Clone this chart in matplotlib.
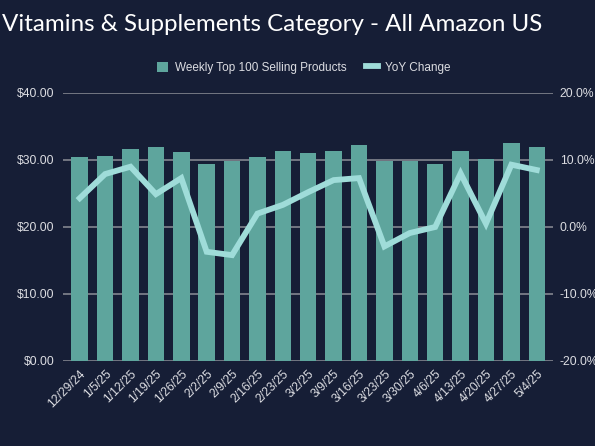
import matplotlib
matplotlib.use("Agg")
import matplotlib.pyplot as plt
from matplotlib.ticker import FuncFormatter

# data
weeks = ['12/29/24', '1/5/25', '1/12/25', '1/19/25', '1/26/25', '2/2/25', '2/9/25',
         '2/16/25', '2/23/25', '3/2/25', '3/9/25', '3/16/25', '3/23/25', '3/30/25',
         '4/6/25', '4/13/25', '4/20/25', '4/27/25', '5/4/25']
avg_price = [30.4, 30.6, 31.7, 32.0, 31.2, 29.4, 29.9, 30.4, 31.3, 31.1,
             31.3, 32.3, 29.9, 29.9, 29.4, 31.3, 30.1, 32.5, 32.0]
yoy_change = [4.3, 7.9, 9.0, 4.9, 7.3, -3.7, -4.2, 2.0, 3.3, 5.2,
              7.0, 7.3, -2.9, -0.9, 0.0, 8.0, 0.5, 9.3, 8.5]

bg = "#161e36"
bar_col = "#5ea59d"
line_col = "#9fdcd9"
grid_col = "#7a7e88"
txt_col = "#dcdde2"

plt.rcParams['font.family'] = ['Liberation Sans', 'DejaVu Sans']

fig = plt.figure(figsize=(5.95, 4.46), dpi=100, facecolor=bg)
ax = fig.add_axes([0.1054, 0.1906, 0.8236, 0.6009])
ax.set_facecolor(bg)

x = list(range(len(weeks)))
bars = ax.bar(x, avg_price, width=0.65, color=bar_col, zorder=2,
              label="Weekly Top 100 Selling Products")
ax.set_ylim(0, 40)
ax.set_yticks([0, 10, 20, 30, 40])
ax.yaxis.set_major_formatter(FuncFormatter(lambda v, p: f"${v:.2f}"))
ax.set_xlim(-0.67, len(weeks) - 1 + 0.63)
ax.set_xticks(x)
ax.set_xticklabels(weeks, rotation=45, ha='right', rotation_mode='anchor')
ax.grid(axis='y', color=grid_col, linewidth=1.3, zorder=0)
ax.tick_params(axis='both', length=0, colors=txt_col, labelsize=8.7)
ax.tick_params(axis='y', pad=6)
ax.tick_params(axis='x', pad=5)
for s in ax.spines.values():
    s.set_visible(False)

ax2 = ax.twinx()
ln, = ax2.plot(x, yoy_change, color=line_col, linewidth=4.2, zorder=3,
               solid_joinstyle='miter', label="YoY Change")
ax2.set_ylim(-20, 20)
ax2.set_yticks([-20, -10, 0, 10, 20])
ax2.yaxis.set_major_formatter(FuncFormatter(lambda v, p: f"{v:.1f}%"))
ax2.tick_params(axis='y', length=0, colors=txt_col, labelsize=8.7, pad=5)
for s in ax2.spines.values():
    s.set_visible(False)

fig.legend(handles=[bars, ln], loc='center', bbox_to_anchor=(0.51, 0.848), ncol=2,
           frameon=False, fontsize=8.5, labelcolor=txt_col, handlelength=1.0,
           handleheight=1.0, handletextpad=0.6, columnspacing=1.6)

fig.text(0.003, 0.945, "Vitamins & Supplements Category - All Amazon US",
         color="white", fontsize=17.4, family=['Lato', 'DejaVu Sans'],
         ha='left', va='center')

fig.savefig("out.png", dpi=100, facecolor=bg)
